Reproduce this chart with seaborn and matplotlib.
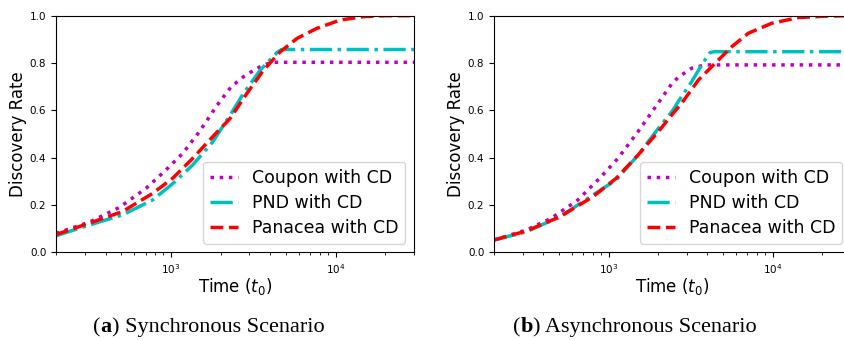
import matplotlib
matplotlib.use("Agg")
import matplotlib.pyplot as plt
import seaborn as sns

# (a) Synchronous scenario
sync_coupon_t = [200, 318, 484, 704, 932, 1178, 1489, 1900, 2323, 2760, 3330, 3800, 4110, 30000]
sync_coupon_v = [0.080, 0.127, 0.189, 0.270, 0.348, 0.418, 0.510, 0.620, 0.700, 0.742, 0.778, 0.795, 0.803, 0.803]

sync_pnd_t = [200, 318, 507, 773, 1024, 1355, 1795, 2290, 2760, 3490, 4420, 4700, 30000]
sync_pnd_v = [0.070, 0.115, 0.158, 0.221, 0.290, 0.369, 0.467, 0.580, 0.672, 0.770, 0.845, 0.857, 0.857]

sync_pan_t = [200, 318, 507, 773, 1024, 1355, 1795, 2290, 2896, 3655, 4625, 5836, 7730, 10720, 14890, 20000, 30000]
sync_pan_v = [0.075, 0.123, 0.172, 0.249, 0.313, 0.397, 0.489, 0.566, 0.672, 0.770, 0.848, 0.904, 0.947, 0.982, 0.996, 1.0, 1.0]

# (b) Asynchronous scenario
async_coupon_t = [200, 315, 447, 649, 901, 1139, 1510, 2000, 2411, 2655, 3205, 3865, 30000]
async_coupon_v = [0.052, 0.094, 0.144, 0.221, 0.320, 0.397, 0.510, 0.630, 0.710, 0.740, 0.778, 0.792, 0.792]

async_pnd_t = [200, 315, 504, 802, 1112, 1510, 2047, 2466, 2655, 3205, 3690, 4150, 4400, 30000]
async_pnd_v = [0.052, 0.087, 0.150, 0.242, 0.306, 0.411, 0.531, 0.601, 0.637, 0.721, 0.792, 0.844, 0.848, 0.848]

async_pan_t = [200, 315, 504, 802, 1112, 1510, 2047, 2466, 2786, 3522, 4456, 5628, 7108, 9860, 14330, 20840, 30000]
async_pan_v = [0.052, 0.090, 0.150, 0.235, 0.313, 0.411, 0.517, 0.587, 0.630, 0.728, 0.799, 0.869, 0.926, 0.968, 0.992, 0.998, 1.0]

labels = ["Coupon with CD", "PND with CD", "Panacea with CD"]
colors = ["m", "c", "r"]
styles = [":", "-.", "--"]

fig = plt.figure(figsize=(8.44, 3.4), dpi=100)
ax1 = fig.add_axes([56 / 844, 87.7 / 340, 358 / 844, 236.6 / 340])
ax2 = fig.add_axes([494 / 844, 87.7 / 340, 357 / 844, 236.6 / 340])

panels = [
    (ax1, [(sync_coupon_t, sync_coupon_v), (sync_pnd_t, sync_pnd_v), (sync_pan_t, sync_pan_v)]),
    (ax2, [(async_coupon_t, async_coupon_v), (async_pnd_t, async_pnd_v), (async_pan_t, async_pan_v)]),
]

for ax, series in panels:
    for (t, v), lab, col, ls in zip(series, labels, colors, styles):
        sns.lineplot(x=t, y=v, ax=ax, color=col, linestyle=ls, lw=2.5, label=lab)
    ax.set_xscale("log")
    ax.set_xlim(200, 30000)
    ax.set_ylim(0, 1.0)
    ax.tick_params(labelsize=7.5)
    ax.set_xlabel("Time ($t_0$)", fontsize=12, labelpad=0)
    ax.set_ylabel("Discovery Rate", fontsize=12, labelpad=2)
    ax.legend(loc="lower right", fontsize=12.5, handlelength=1.6, labelspacing=0.4)

# captions: "(a) Synchronous Scenario", bold letter only
for x0, letter, text in [(93, "a", "Synchronous Scenario"), (513, "b", "Asynchronous Scenario")]:
    t1 = fig.text(x0 / 844, 3 / 340, "(", family="Liberation Serif", fontsize=16, va="bottom")
    t2 = ax1.annotate(letter, xy=(1, 0), xycoords=t1, family="Liberation Serif",
                      fontsize=16, weight="bold", va="bottom", annotation_clip=False)
    ax1.annotate(") " + text, xy=(1, 0), xycoords=t2, family="Liberation Serif",
                 fontsize=16, va="bottom", annotation_clip=False)

fig.savefig("out.png", dpi=100)
